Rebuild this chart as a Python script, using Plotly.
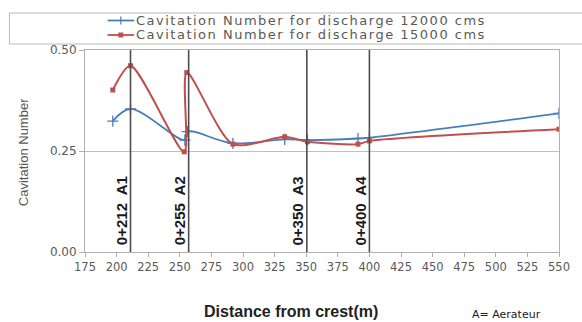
import plotly.graph_objects as go

# Data
x_12000 = [197, 211, 254, 256, 292, 333, 351, 391, 400, 550]
y_12000 = [0.324, 0.354, 0.277, 0.298, 0.269, 0.279, 0.277, 0.281, 0.283, 0.343]

x_15000 = [197, 211, 253.5, 255.5, 292, 333, 351, 391, 400, 550]
y_15000 = [0.401, 0.461, 0.248, 0.444, 0.267, 0.285, 0.273, 0.267, 0.275, 0.304]

aerator_x = [211, 257, 350.5, 400]
aerator_labels = ["0+212  A1", "0+255  A2", "0+350  A3", "0+400  A4"]

x_ticks = list(range(175, 551, 25))
y_ticks = [0.0, 0.25, 0.5]

BLUE = "#4a7ebb"
RED = "#c0504d"
GRAY_TXT = "#595959"

W, H = 582, 322
L, R, T, B = 85, 14, 50, 70
PW, PH = W - L - R, H - T - B


def px(xp):
    return (xp - L) / PW


def py(yp):
    return (H - B - yp) / PH


fig = go.Figure()
fig.add_trace(go.Scatter(
    x=x_12000, y=y_12000, mode="lines+markers",
    line=dict(color=BLUE, width=1.8, shape="spline"),
    marker=dict(symbol="cross-thin", size=8, line=dict(color=BLUE, width=1.3)),
    name="Cavitation Number for discharge 12000 cms", showlegend=False))
fig.add_trace(go.Scatter(
    x=x_15000, y=y_15000, mode="lines+markers",
    line=dict(color=RED, width=2, shape="spline", smoothing=0.75),
    marker=dict(symbol="square", size=5, color=RED),
    name="Cavitation Number for discharge 15000 cms", showlegend=False))

shapes = []
annotations = []
for xa, lab in zip(aerator_x, aerator_labels):
    shapes.append(dict(type="line", xref="x", yref="y", x0=xa, x1=xa, y0=0, y1=0.5,
                       line=dict(color="#4d4d4d", width=1.6)))
    annotations.append(dict(x=xa, y=0.012, xref="x", yref="y", text="<b>" + lab + "</b>",
                            showarrow=False, textangle=-90, xanchor="center",
                            yanchor="bottom", xshift=-9,
                            font=dict(family="Liberation Sans", size=15, color="#1a1a1a")))

# legend box and entries (drawn manually to match the compact layout)
shapes.append(dict(type="rect", xref="paper", yref="paper", x0=px(8), x1=px(600),
                   y0=py(44), y1=py(13), line=dict(color="#b8b8b8", width=1)))
legend_rows = [(20.5, BLUE, "Cavitation Number for discharge 12000 cms"),
               (35.0, RED, "Cavitation Number for discharge 15000 cms")]
for yy, col, txt in legend_rows:
    shapes.append(dict(type="line", xref="paper", yref="paper", x0=px(108), x1=px(135),
                       y0=py(yy), y1=py(yy), line=dict(color=col, width=1.8)))
    annotations.append(dict(x=px(135), y=py(yy), xref="paper", yref="paper",
                            text='<span style="letter-spacing:1.5px">' + txt + "</span>",
                            showarrow=False, xanchor="left", yanchor="middle",
                            font=dict(family="DejaVu Sans", size=13, color=GRAY_TXT)))
# legend glyphs
shapes.append(dict(type="line", xref="paper", yref="paper", x0=px(121.5), x1=px(121.5),
                   y0=py(24.5), y1=py(16.5), line=dict(color=BLUE, width=1.2)))
shapes.append(dict(type="rect", xref="paper", yref="paper", x0=px(119), x1=px(124),
                   y0=py(37.5), y1=py(32.5), fillcolor=RED, line=dict(color=RED, width=0)))

annotations.append(dict(x=px(295), y=py(311), xref="paper", yref="paper",
                        text="<b>Distance from crest(m)</b>", showarrow=False,
                        xanchor="center", yanchor="middle",
                        font=dict(family="Liberation Sans", size=16, color="#222222")))
annotations.append(dict(x=px(514), y=py(314), xref="paper", yref="paper",
                        text="A= Aerateur", showarrow=False,
                        xanchor="center", yanchor="middle",
                        font=dict(family="DejaVu Sans", size=11, color="#222222")))
annotations.append(dict(x=px(22), y=py(152), xref="paper", yref="paper",
                        text="Cavitation Number", showarrow=False, textangle=-90,
                        xanchor="center", yanchor="middle",
                        font=dict(family="Liberation Sans", size=13, color=GRAY_TXT)))

fig.update_layout(
    width=W, height=H, margin=dict(l=L, r=R, t=T, b=B),
    paper_bgcolor="white", plot_bgcolor="white",
    shapes=shapes, annotations=annotations, showlegend=False,
    xaxis=dict(range=[175, 550], tickvals=x_ticks, ticktext=[str(v) for v in x_ticks],
               showgrid=False, zeroline=False, showline=True, linecolor="#b0b0b0",
               mirror=True, ticks="outside", ticklen=4, tickcolor="#b0b0b0",
               tickfont=dict(family="DejaVu Sans", size=11.5, color=GRAY_TXT)),
    yaxis=dict(range=[0, 0.5], tickvals=y_ticks, ticktext=["0.00", "0.25", "0.50"],
               showgrid=True, gridcolor="#c0c0c0", zeroline=False, showline=True,
               linecolor="#b0b0b0", mirror=True, ticks="outside", ticklen=5,
               tickcolor="#b0b0b0",
               tickfont=dict(family="DejaVu Sans", size=12, color=GRAY_TXT)),
)

fig.write_html(
    "out.html",
    config={"displayModeBar": False},
    post_script="document.body.style.margin='0';document.body.style.padding='0';",
)
